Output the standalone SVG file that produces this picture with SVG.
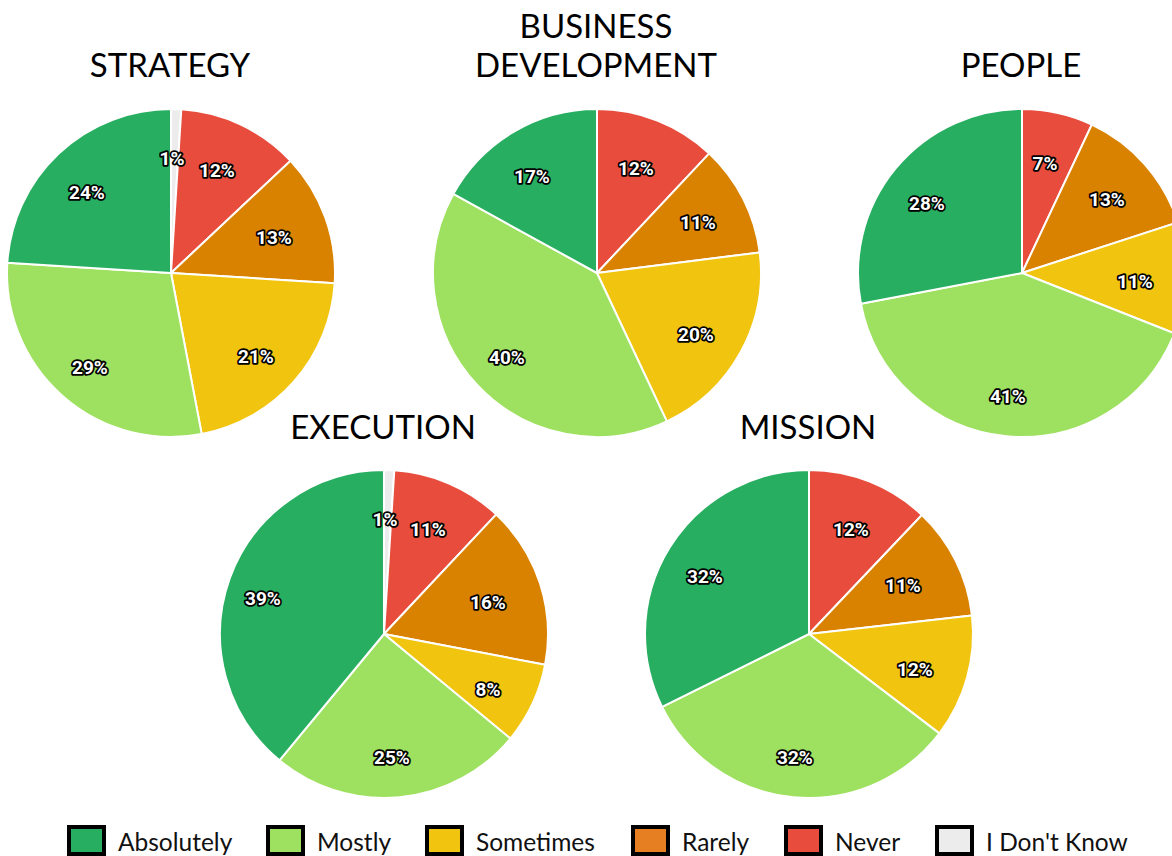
<svg xmlns="http://www.w3.org/2000/svg" width="1172" height="856" viewBox="0 0 1172 856">
<style>
.title{font-family:Lato,"Open Sans",sans-serif;font-size:33px;fill:#000;text-anchor:middle}
.lbl{font-family:Roboto,"DejaVu Sans",sans-serif;font-weight:bold;font-size:19px;fill:#fff;stroke:#000;stroke-width:3.5px;stroke-linejoin:round;paint-order:stroke;text-anchor:middle;dominant-baseline:central}
.sl{stroke:#fff;stroke-width:2;stroke-linejoin:round}
.ab{fill:#27ae60}.mo{fill:#9ee05f}.so{fill:#f1c40f}.ra{fill:#d98200}.ne{fill:#e74c3c}.dk{fill:#ececec}
.lg{stroke:#000;stroke-width:4}
.lt{font-family:Lato,"Open Sans",sans-serif;font-size:24.5px;fill:#111}
</style>
<rect width="1172" height="856" fill="#fff"/>

<g id="strategy">
<text class="title" x="170" y="77">STRATEGY</text>
<path class="sl dk" d="M171,273 L171,109 A164,164 0 0 1 181.30,109.33 Z"/>
<path class="sl ne" d="M171,273 L181.30,109.33 A164,164 0 0 1 290.56,160.74 Z"/>
<path class="sl ra" d="M171,273 L290.56,160.74 A164,164 0 0 1 334.67,283.30 Z"/>
<path class="sl so" d="M171,273 L334.67,283.30 A164,164 0 0 1 201.73,434.10 Z"/>
<path class="sl mo" d="M171,273 L201.73,434.10 A164,164 0 0 1 7.33,262.70 Z"/>
<path class="sl ab" d="M171,273 L7.33,262.70 A164,164 0 0 1 171,109 Z"/>
<text class="lbl" x="172" y="158">1%</text>
<text class="lbl" x="217" y="170">12%</text>
<text class="lbl" x="274" y="237">13%</text>
<text class="lbl" x="256" y="356">21%</text>
<text class="lbl" x="90" y="367">29%</text>
<text class="lbl" x="87" y="192">24%</text>
</g>

<g id="business-development">
<text class="title" x="596" y="38">BUSINESS</text>
<text class="title" x="596" y="77">DEVELOPMENT</text>
<path class="sl ne" d="M597,273 L597,109 A164,164 0 0 1 709.26,153.44 Z"/>
<path class="sl ra" d="M597,273 L709.26,153.44 A164,164 0 0 1 759.71,252.45 Z"/>
<path class="sl so" d="M597,273 L759.71,252.45 A164,164 0 0 1 666.83,421.39 Z"/>
<path class="sl mo" d="M597,273 L666.83,421.39 A164,164 0 0 1 453.29,193.98 Z"/>
<path class="sl ab" d="M597,273 L453.29,193.98 A164,164 0 0 1 597,109 Z"/>
<text class="lbl" x="532" y="176">17%</text>
<text class="lbl" x="636" y="168">12%</text>
<text class="lbl" x="698" y="222">11%</text>
<text class="lbl" x="696" y="334">20%</text>
<text class="lbl" x="507" y="357">40%</text>
</g>

<g id="people">
<text class="title" x="1021" y="77">PEOPLE</text>
<path class="sl ne" d="M1022,273 L1022,109 A164,164 0 0 1 1091.83,124.61 Z"/>
<path class="sl ra" d="M1022,273 L1091.83,124.61 A164,164 0 0 1 1177.98,222.32 Z"/>
<path class="sl so" d="M1022,273 L1177.98,222.32 A164,164 0 0 1 1174.49,333.37 Z"/>
<path class="sl mo" d="M1022,273 L1174.49,333.37 A164,164 0 0 1 860.90,303.73 Z"/>
<path class="sl ab" d="M1022,273 L860.90,303.73 A164,164 0 0 1 1022,109 Z"/>
<text class="lbl" x="1045" y="163">7%</text>
<text class="lbl" x="1107" y="199">13%</text>
<text class="lbl" x="1135" y="281">11%</text>
<text class="lbl" x="1008" y="396">41%</text>
<text class="lbl" x="927" y="203">28%</text>
</g>

<g id="execution">
<text class="title" x="383" y="439">EXECUTION</text>
<path class="sl dk" d="M384,634 L384,470 A164,164 0 0 1 394.30,470.33 Z"/>
<path class="sl ne" d="M384,634 L394.30,470.33 A164,164 0 0 1 496.26,514.44 Z"/>
<path class="sl ra" d="M384,634 L496.26,514.44 A164,164 0 0 1 545.10,664.73 Z"/>
<path class="sl so" d="M384,634 L545.10,664.73 A164,164 0 0 1 510.36,738.53 Z"/>
<path class="sl mo" d="M384,634 L510.36,738.53 A164,164 0 0 1 279.47,760.36 Z"/>
<path class="sl ab" d="M384,634 L279.47,760.36 A164,164 0 0 1 384,470 Z"/>
<text class="lbl" x="385" y="519">1%</text>
<text class="lbl" x="428" y="529">11%</text>
<text class="lbl" x="488" y="602">16%</text>
<text class="lbl" x="488" y="689">8%</text>
<text class="lbl" x="392" y="757">25%</text>
<text class="lbl" x="263" y="598">39%</text>
</g>

<g id="mission">
<text class="title" x="808" y="439">MISSION</text>
<path class="sl ne" d="M809,634 L809,470 A164,164 0 0 1 921.90,515.03 Z"/>
<path class="sl ra" d="M809,634 L921.90,515.03 A164,164 0 0 1 971.95,615.44 Z"/>
<path class="sl so" d="M809,634 L971.95,615.44 A164,164 0 0 1 939.40,733.38 Z"/>
<path class="sl mo" d="M809,634 L939.40,733.38 A164,164 0 0 1 662.11,706.91 Z"/>
<path class="sl ab" d="M809,634 L662.11,706.91 A164,164 0 0 1 809,470 Z"/>
<text class="lbl" x="851" y="529">12%</text>
<text class="lbl" x="903" y="585">11%</text>
<text class="lbl" x="915" y="669">12%</text>
<text class="lbl" x="795" y="757">32%</text>
<text class="lbl" x="705" y="576">32%</text>
</g>

<g id="legend">
<rect class="lg" x="69" y="827" width="35" height="27" fill="#27ae60"/>
<text class="lt" x="118" y="851">Absolutely</text>
<rect class="lg" x="268" y="827" width="35" height="27" fill="#9ee05f"/>
<text class="lt" x="317" y="851">Mostly</text>
<rect class="lg" x="427" y="827" width="35" height="27" fill="#f1c40f"/>
<text class="lt" x="476" y="851">Sometimes</text>
<rect class="lg" x="633" y="827" width="35" height="27" fill="#e67e22"/>
<text class="lt" x="682" y="851">Rarely</text>
<rect class="lg" x="786" y="827" width="35" height="27" fill="#e74c3c"/>
<text class="lt" x="835" y="851">Never</text>
<rect class="lg" x="937" y="827" width="35" height="27" fill="#ececec"/>
<text class="lt" x="986" y="851">I Don't Know</text>
</g>
</svg>
